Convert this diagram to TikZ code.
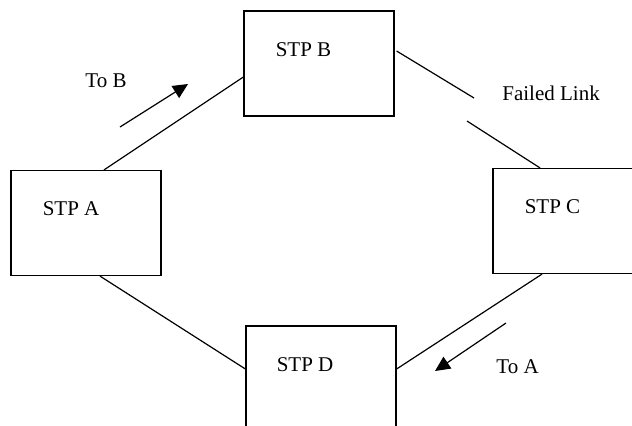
\documentclass[tikz,border=0pt]{standalone}
\usepackage{fontspec}
\setmainfont{Liberation Serif}
\usepackage{tikz}
\usetikzlibrary{arrows.meta}
\tikzset{x=0.5pt, y=-0.5pt,
	stpbox/.style={
		draw,
		line width=0.6pt,
		minimum width=75pt,
		minimum height=52.5pt,
		inner sep=0pt},
	stptext/.style={
		anchor=base west,
		inner sep=0pt,
		font=\fontsize{10.5}{12}\selectfont},
	link/.style={
		draw,
		line width=0.6pt},
	dir/.style={
		draw,
		line width=0.6pt,
		-{Triangle[length=7.5pt,width=7pt]}}
}
\begin{document}
\begin{tikzpicture}
				\useasboundingbox (0,0) rectangle (632,425);
				\node[stpbox] (a) at (86,223) {};
				\node[stpbox] (b) at (319,63.5) {};
				\node[stpbox] (c) at (568,221) {};
				\node[stpbox] (d) at (321,378.5) {};
				\node[stptext] (ta) at ([shift={(16pt,-23pt)}]a.north west) {STP A};
				\node[stptext] (tb) at ([shift={(16pt,-23pt)}]b.north west) {STP B};
				\node[stptext] (tc) at ([shift={(16pt,-23pt)}]c.north west) {STP C};
				\node[stptext] (td) at ([shift={(15.5pt,-23pt)}]d.north west) {STP D};
				% links
				\draw[link] ([xshift=9pt]a.north) -- ([yshift=-6.75pt]b.west);
				\draw[link] ([xshift=7pt]a.south) -- ([yshift=4.75pt]d.west);
				\draw[link] ([xshift=-13pt]c.south) -- ([yshift=4.75pt]d.east);
				% failed link
				\coordinate (f1) at (474,98);
				\coordinate (f2) at (467,121);
				\draw[link] ([shift={(1pt,6.25pt)}]b.east) -- (f1);
				\draw[link] (f2) -- ([xshift=-14pt]c.north);
				\node[stptext] (fl) at (502,100) {Failed Link};
				% directions
				\coordinate (s1) at (120,127);
				\coordinate (e1) at (188,84);
				\coordinate (s2) at (506,323);
				\coordinate (e2) at (435,371);
				\draw[dir] (s1) -- (e1);
				\draw[dir] (s2) -- (e2);
				\node[stptext] (tob) at (85,87) {To B};
				\node[stptext] (toa) at (496,373) {To A};
			\end{tikzpicture}
\end{document}
